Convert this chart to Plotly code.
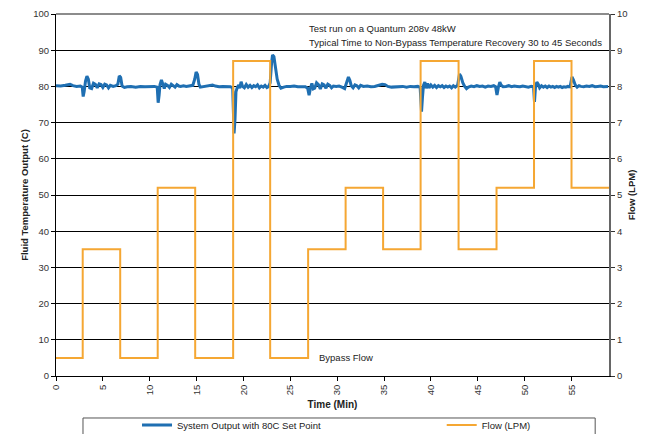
import plotly.graph_objects as go

# Flow (LPM) step series
flow_time = [0, 2.85, 6.85, 10.85, 14.85, 18.9, 22.85, 26.9, 30.9, 34.9, 38.9, 42.95, 47.0, 51.0, 55.0, 59.0]
flow_lpm = [0.5, 3.5, 0.5, 5.2, 0.5, 8.7, 0.5, 3.5, 5.2, 3.5, 8.7, 3.5, 5.2, 8.7, 5.2, 5.2]

# System output temperature (C)
temp_time = [
    0.0, 0.5, 1.0, 1.5, 1.8, 2.2, 2.6, 2.8,
    2.9, 3.0, 3.15, 3.3, 3.45, 3.6, 3.8, 4.0, 4.2, 4.4, 4.6, 4.8, 5.0, 5.2, 5.4, 5.6, 5.8, 6.1, 6.4, 6.6,
    6.75, 6.9, 7.05, 7.3, 7.6, 8.0, 8.5, 9.0, 9.5, 10.0, 10.5, 10.8,
    10.9, 11.0, 11.1, 11.25, 11.4, 11.55, 11.7, 11.9, 12.1, 12.3, 12.5, 12.7, 12.9, 13.1, 13.3, 13.6,
    13.9, 14.1, 14.3, 14.6, 14.8, 14.95, 15.1, 15.25, 15.4, 15.6, 16.0, 16.4, 16.7, 17.0, 17.4, 17.8,
    18.2, 18.6, 18.85,
    19.0, 19.1, 19.2, 19.35, 19.5, 19.6, 19.75, 19.9, 20.1, 20.3, 20.5, 20.7, 20.9, 21.1, 21.3, 21.5,
    21.7, 21.9, 22.1, 22.3, 22.5, 22.7, 22.85,
    23.0, 23.1, 23.25, 23.4, 23.6, 23.8, 24.0, 24.3, 24.6, 25.0, 25.4, 25.8, 26.2, 26.6, 26.85,
    27.0, 27.15, 27.3, 27.45, 27.6, 27.8, 28.0, 28.2, 28.4, 28.6, 28.8, 29.0, 29.2, 29.4, 29.6, 29.9,
    30.2, 30.5, 30.8, 31.0, 31.2, 31.35, 31.5, 31.7, 31.9, 32.1, 32.3, 32.5, 32.8, 33.2, 33.6, 34.0,
    34.4, 34.8, 35.1, 35.4, 35.8, 36.2, 36.6, 37.0, 37.4, 37.8, 38.2, 38.6, 38.85,
    39.0, 39.1, 39.2, 39.35, 39.5, 39.65, 39.8, 40.0, 40.2, 40.4, 40.6, 40.8, 41.0, 41.2, 41.4, 41.6,
    41.8, 42.0, 42.2, 42.4, 42.6, 42.85,
    43.05, 43.2, 43.4, 43.6, 43.8, 44.0, 44.3, 44.6, 44.9, 45.2, 45.5, 45.8, 46.1, 46.4, 46.7, 46.9,
    47.05, 47.2, 47.35, 47.5, 47.7, 48.0, 48.3, 48.6, 48.9, 49.2, 49.5, 49.8, 50.1, 50.4, 50.7, 50.95,
    51.05, 51.15, 51.3, 51.45, 51.6, 51.8, 52.0, 52.2, 52.4, 52.6, 52.8, 53.0, 53.2, 53.4, 53.6, 53.8,
    54.0, 54.2, 54.4, 54.6, 54.85,
    55.05, 55.2, 55.4, 55.6, 55.8, 56.0, 56.3, 56.6, 56.9, 57.2, 57.5, 57.8, 58.1, 58.4, 58.7, 58.9,
]
temp_c = [
    80.2, 80.1, 80.3, 80.6, 80.2, 80.0, 80.1, 79.8,
    77.2, 78.5, 81.5, 82.8, 82.0, 79.6, 79.4, 80.9, 80.6, 79.6, 80.7, 80.5, 79.7, 80.6, 80.4, 79.6, 80.3, 80.0, 80.2, 80.6,
    82.9, 82.5, 80.1, 79.7, 79.9, 80.0, 79.8, 80.0, 79.9, 80.0, 80.0, 79.8,
    75.5, 77.5, 80.5, 81.8, 80.2, 79.4, 80.6, 80.3, 79.7, 80.6, 80.2, 79.8, 80.5, 80.1, 80.0, 80.2,
    80.0, 80.1, 80.0, 80.3, 82.0, 84.0, 83.3, 80.6, 79.8, 79.9, 79.9, 80.2, 80.4, 80.1, 79.9, 80.0,
    80.0, 79.9, 79.6,
    67.0, 71.0, 78.5, 79.8, 80.4, 79.5, 81.3, 80.0, 79.6, 80.5, 79.8, 80.3, 79.7, 80.2, 79.9, 80.4,
    79.6, 80.1, 79.8, 80.3, 79.7, 80.0, 81.0,
    86.5, 88.7, 88.2, 85.0, 82.0, 80.3, 79.5, 79.8, 80.0, 80.0, 80.1, 79.9, 80.0, 79.9, 79.5,
    77.6, 79.5, 80.8, 79.3, 79.5, 81.0, 80.5, 79.3, 80.7, 80.4, 79.5, 80.6, 80.3, 79.6, 80.1, 80.0,
    80.1, 79.8, 79.4, 81.0, 82.6, 81.7, 80.2, 79.6, 80.4, 80.2, 79.6, 80.3, 80.0, 80.1, 79.9, 80.0,
    80.3, 80.6, 80.5, 80.0, 79.8, 79.9, 79.9, 80.0, 79.8, 80.0, 79.9, 80.0, 79.7,
    73.0, 77.0, 80.2, 81.2, 79.5, 80.8, 79.6, 80.4, 79.8, 80.3, 79.7, 80.2, 79.9, 80.2, 79.7, 80.1,
    79.8, 80.1, 79.6, 80.2, 79.8, 80.3,
    83.4, 82.8, 81.0, 80.0, 79.4, 79.8, 80.1, 79.9, 80.2, 80.0, 80.1, 79.8, 80.1, 80.0, 80.2, 79.9,
    77.6, 79.8, 81.2, 80.3, 79.9, 80.0, 80.2, 79.9, 80.1, 80.0, 79.9, 80.1, 80.0, 79.8, 80.0, 79.9,
    75.7, 79.5, 81.2, 80.6, 79.6, 80.2, 79.8, 80.1, 79.7, 80.1, 79.8, 80.0, 79.7, 80.0, 79.8, 80.0,
    79.7, 79.9, 79.8, 80.0, 79.9,
    82.6, 81.8, 80.4, 79.8, 80.2, 80.0, 79.9, 80.1, 80.0, 80.2, 79.9, 80.0, 80.1, 79.9, 80.0, 80.0,
]

x_ticks = [0, 5, 10, 15, 20, 25, 30, 35, 40, 45, 50, 55]

FONT = "Liberation Sans, Arial, sans-serif"
BLUE = "#1f6fb2"
ORANGE = "#f5a733"
FS = 9.5

fig = go.Figure()
fig.add_trace(go.Scatter(
    x=flow_time, y=flow_lpm, name="Flow (LPM)", mode="lines",
    line=dict(color=ORANGE, width=2, shape="hv"), yaxis="y2", legend="legend2",
))
fig.add_trace(go.Scatter(
    x=temp_time, y=temp_c, name="System Output with 80C Set Point", mode="lines",
    line=dict(color=BLUE, width=3), yaxis="y", legend="legend",
))

legend_common = dict(
    orientation="h", yanchor="middle", y=-0.1354, xanchor="left",
    font=dict(family=FONT, size=FS, color="#222"),
    bgcolor="rgba(0,0,0,0)", borderwidth=0,
)

fig.update_layout(
    width=649, height=434,
    margin=dict(l=48, r=48, t=6, b=66, autoexpand=False),
    paper_bgcolor="white", plot_bgcolor="white",
    font=dict(family=FONT, size=FS, color="#222"),
    showlegend=True,
    legend=dict(x=0.1465, **legend_common),
    legend2=dict(x=0.6975, **legend_common),
    xaxis=dict(
        range=[0, 59], tickvals=x_ticks, tickangle=-90,
        showgrid=False, zeroline=False,
        showline=True, linecolor="black", linewidth=1,
        ticks="outside", ticklen=4, tickcolor="black",
        title=dict(text="<b>Time (Min)</b>", font=dict(size=FS + 0.5), standoff=6),
        tickfont=dict(size=FS, color="#333"),
    ),
    yaxis=dict(
        range=[0, 100], dtick=10,
        showgrid=True, gridcolor="black", gridwidth=1, zeroline=False,
        showline=True, linecolor="black", linewidth=1,
        ticks="outside", ticklen=4, tickcolor="black",
        title=dict(text="<b>Fluid Temperature Output (C)</b>", font=dict(size=FS), standoff=2),
        tickfont=dict(size=FS, color="#333"),
    ),
    yaxis2=dict(
        range=[0, 10], dtick=1, overlaying="y", side="right",
        showgrid=False, zeroline=False,
        showline=True, linecolor="#666", linewidth=2,
        ticks="outside", ticklen=4, tickcolor="#333",
        title=dict(text="<b>Flow (LPM)</b>", font=dict(size=FS), standoff=2),
        tickfont=dict(size=FS, color="#333"),
    ),
    shapes=[
        dict(type="line", xref="paper", yref="paper", x0=0, x1=1, y0=1, y1=1,
             line=dict(color="#666", width=1.5)),
        dict(type="rect", xref="paper", yref="paper", x0=0.0488, x1=0.975, y0=-0.116, y1=-0.18,
             line=dict(color="#555", width=1), fillcolor="rgba(0,0,0,0)"),
    ],
    annotations=[
        dict(text="Test run on a Quantum 208v 48kW", xref="paper", yref="paper",
             x=(307 - 56) / 553, y=(376 - 29) / 362, xanchor="left", yanchor="middle",
             showarrow=False, font=dict(size=FS, color="#222")),
        dict(text="Typical Time to Non-Bypass Temperature Recovery 30 to 45 Seconds", xref="paper", yref="paper",
             x=(307 - 56) / 553, y=(376 - 43) / 362, xanchor="left", yanchor="middle",
             showarrow=False, font=dict(size=FS, color="#222")),
        dict(text="Bypass Flow", xref="paper", yref="paper",
             x=(317 - 56) / 553, y=(376 - 357) / 362, xanchor="left", yanchor="middle",
             showarrow=False, font=dict(size=FS, color="#222")),
    ],
)

fig.write_html("out.html")
